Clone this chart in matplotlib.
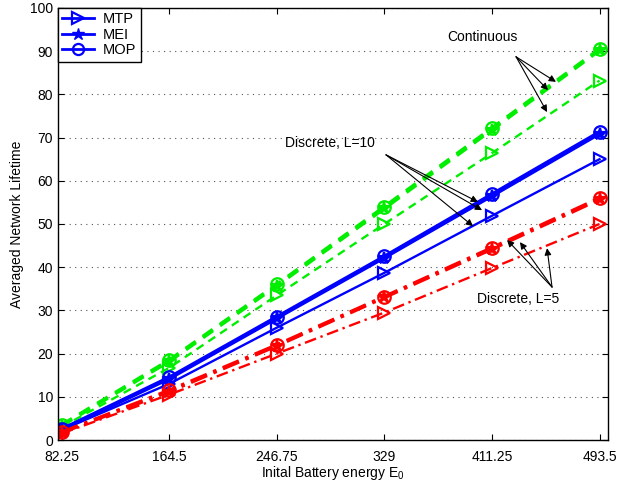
import matplotlib
matplotlib.use("Agg")
import matplotlib.pyplot as plt

plt.rcParams['font.family'] = ['Liberation Sans', 'DejaVu Sans']
plt.rcParams['mathtext.fontset'] = 'custom'
plt.rcParams['mathtext.rm'] = 'Liberation Sans'

energy = [82.25, 164.5, 246.75, 329, 411.25, 493.5]
tick_labels = ["82.25", "164.5", "246.75", "329", "411.25", "493.5"]

cont_mtp = [3.0, 16.7, 33.5, 50.0, 66.4, 83.2]
cont_mei = [3.3, 18.2, 35.7, 53.6, 71.8, 90.2]
cont_mop = [3.5, 18.5, 36.0, 54.0, 72.2, 90.5]

d10_mtp = [2.3, 13.0, 26.0, 38.7, 51.9, 65.0]
d10_mei = [2.4, 14.2, 28.2, 42.2, 56.5, 70.9]
d10_mop = [2.5, 14.5, 28.5, 42.5, 56.9, 71.3]

d5_mtp = [1.5, 10.5, 20.0, 29.5, 39.8, 50.0]
d5_mei = [1.7, 11.2, 21.8, 33.0, 44.2, 55.7]
d5_mop = [1.8, 11.5, 22.0, 33.2, 44.5, 56.0]

fig = plt.figure(figsize=(6.39, 4.87), dpi=100)
ax = fig.add_axes([0.0908, 0.0965, 0.8607, 0.8871])

green = '#00ee00'
blue = '#0000ff'
red = '#ff0000'
ms = 9
mew = 1.6

groups = [
    (green, (0, (3.5, 2.5)), cont_mtp, cont_mei, cont_mop),
    (blue, '-', d10_mtp, d10_mei, d10_mop),
    (red, (0, (5, 2, 1, 2)), d5_mtp, d5_mei, d5_mop),
]
for color, ls, mtp, mei, mop in groups:
    ax.plot(energy, mtp, linestyle=ls, color=color, lw=1.7, marker='>', ms=ms,
            mfc='none', mec=color, mew=mew)
    ax.plot(energy, mei, linestyle=ls, color=color, lw=2.5, marker='*', ms=ms,
            mfc=color, mec=color, mew=mew)
    ax.plot(energy, mop, linestyle=ls, color=color, lw=2.5, marker='o', ms=ms,
            mfc='none', mec=color, mew=mew)

# legend proxies (blue)
h1, = ax.plot([], [], '-', color=blue, lw=2, marker='>', ms=8, mfc='none', mec=blue, mew=1.6)
h2, = ax.plot([], [], '-', color=blue, lw=2, marker='*', ms=9, mfc=blue, mec=blue)
h3, = ax.plot([], [], '-', color=blue, lw=2, marker='o', ms=8, mfc='none', mec=blue, mew=1.6)
leg = ax.legend([h1, h2, h3], ['MTP', 'MEI', 'MOP'], loc='upper left',
                fontsize=10.5, fancybox=False, framealpha=1, edgecolor='black',
                borderaxespad=0.0, handlelength=2.2, handletextpad=0.6,
                labelspacing=0.1, borderpad=0.3)
leg.get_frame().set_linewidth(1.0)

ax.set_xlim(79.5, 500)
ax.set_ylim(0, 100)
ax.set_xticks(energy)
ax.set_xticklabels(tick_labels)
ax.set_yticks(range(0, 101, 10))
ax.tick_params(direction='in', top=True, right=True, labelsize=10, length=4)
ax.tick_params(axis='x', pad=7)
ax.yaxis.grid(True, linestyle=(0, (1, 4)), color='#555555', lw=0.8)
for s in ax.spines.values():
    s.set_linewidth(1.0)

ax.set_xlabel(r"Inital Battery energy E$_{\mathrm{0}}$", fontsize=10, labelpad=0)
ax.set_ylabel("Averaged Network Lifetime", fontsize=10)

arrow = dict(arrowstyle='-|>', color='black', lw=0.8, mutation_scale=10, shrinkA=0, shrinkB=0)

ax.text(403.7, 93.3, "Continuous", ha='center', va='center', fontsize=10)
for hx, hy in [(460.2, 82.9), (454.1, 81.0), (453.4, 75.9)]:
    ax.annotate("", xy=(hx, hy), xytext=(429.7, 88.7), arrowprops=arrow)

ax.text(287.5, 68.75, "Discrete, L=10", ha='center', va='center', fontsize=10)
for hx, hy in [(400.6, 55.1), (403.7, 53.2), (396.8, 49.5)]:
    ax.annotate("", xy=(hx, hy), xytext=(330.3, 66.0), arrowprops=arrow)

ax.text(431.2, 32.6, "Discrete, L=5", ha='center', va='center', fontsize=10)
for hx, hy in [(422.8, 46.3), (432.7, 45.8), (453.4, 44.4)]:
    ax.annotate("", xy=(hx, hy), xytext=(457.2, 35.4), arrowprops=arrow)

fig.savefig("out.png", dpi=100)
